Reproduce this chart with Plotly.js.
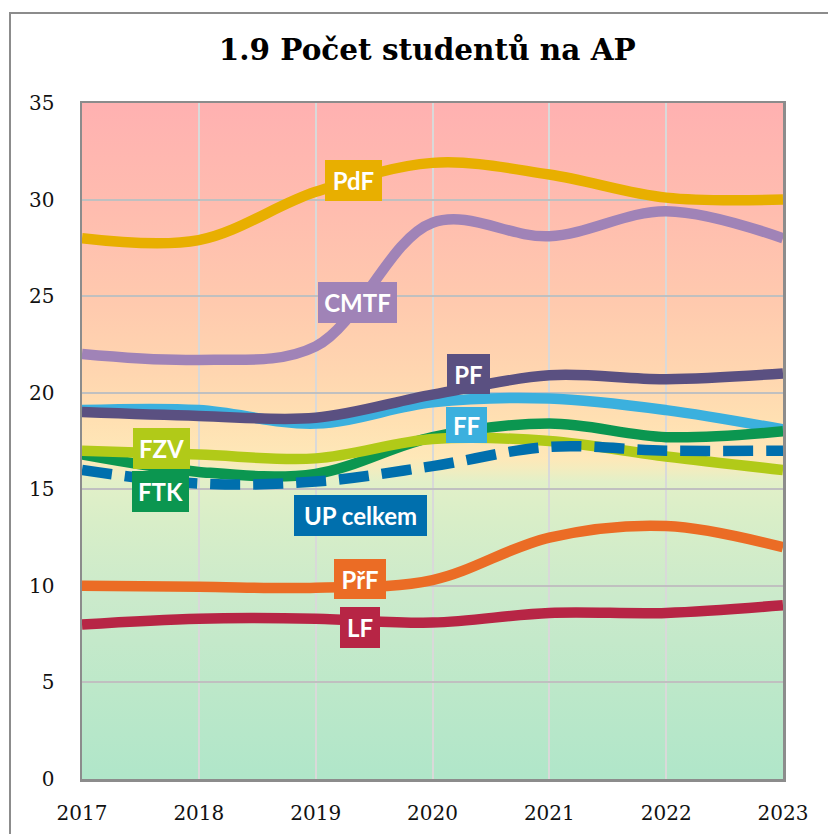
<!DOCTYPE html>
<html>
<head>
<meta charset="utf-8">
<script src="https://cdn.plot.ly/plotly-3.0.1.min.js"></script>
<style>
  html, body { margin: 0; padding: 0; background: #ffffff; }
  #wrap { position: relative; width: 828px; height: 834px; overflow: hidden; background: #fff; }
  #frame { position: absolute; left: 9px; top: 12px; width: 900px; height: 900px;
           border-left: 2px solid #8c8c8c; border-top: 2px solid #8c8c8c; box-sizing: border-box; }
  #bg { position: absolute; left: 82px; top: 103px; width: 701px; height: 676px;
        background: linear-gradient(to bottom,
          #ffb1b1 0%, #ffbcaf 15%, #ffc9ae 29%, #ffd6b0 40%, #ffe0b2 47%,
          #fee8b8 52.5%, #f4ecbe 54%, #e2f0c8 56%, #d8eec8 62%,
          #cbeacb 73%, #bde8c9 86%, #b0e6c9 100%); }
  #chart { position: absolute; left: 0; top: 0; width: 828px; height: 834px; }
</style>
</head>
<body>
<div id="wrap">
  <div id="frame"></div>
  <div id="bg"></div>
  <div id="chart"></div>
</div>
<script>
// ---- data ----
const years = [2017, 2018, 2019, 2020, 2021, 2022, 2023];
const seriesNames = ["CMTF", "FF", "FTK", "FZV", "LF", "PdF", "PF", "PřF", "UP celkem"];
const CMTF = [22.0, 21.7, 22.4, 28.8, 28.1, 29.4, 28.0];
const FF   = [19.1, 19.1, 18.4, 19.5, 19.7, 19.1, 18.1];
const FTK  = [16.8, 15.9, 15.8, 17.7, 18.4, 17.7, 18.0];
const FZV  = [17.0, 16.8, 16.6, 17.6, 17.5, 16.7, 16.0];
const LF   = [8.0, 8.3, 8.3, 8.1, 8.6, 8.6, 9.0];
const PdF  = [28.0, 27.9, 30.4, 31.9, 31.3, 30.1, 30.0];
const PF   = [19.0, 18.8, 18.7, 19.9, 20.9, 20.7, 21.0];
const PrF  = [10.0, 9.95, 9.9, 10.3, 12.5, 13.1, 12.0];
const UP   = [16.0, 15.3, 15.4, 16.2, 17.2, 17.0, 17.0];
const yTicks = [0, 5, 10, 15, 20, 25, 30, 35];
const titleText = "1.9 Počet studentů na AP";

// ---- styles ----
const values = [CMTF, FF, FTK, FZV, LF, PdF, PF, PrF, UP];
const colors = ["#a083b7", "#3bb0de", "#0b9650", "#b1ca18", "#b72545", "#e8af00", "#5a5081", "#eb6c25", "#006fad"];
const dashes = ["solid", "solid", "solid", "solid", "solid", "solid", "solid", "solid", "30px,13px"];

const traces = values.map((v, i) => ({
  x: years, y: v, name: seriesNames[i], type: "scatter", mode: "lines",
  line: { color: colors[i], width: 10.5, shape: "spline", smoothing: 1, dash: dashes[i] },
  hoverinfo: "skip", showlegend: false
}));

// label boxes: [series index, x (year), y (value), box width, box height]
const labelPos = [
  [5, 2019.32, 30.97, 57, 41],
  [0, 2019.36, 24.65, 79, 41],
  [6, 2020.31, 20.97, 43, 40],
  [1, 2020.29, 18.33, 41, 36],
  [3, 2017.68, 17.09, 57, 41],
  [2, 2017.67, 14.86, 57, 41],
  [8, 2019.38, 13.62, 133, 41],
  [7, 2019.38, 10.36, 52, 40],
  [4, 2019.38, 7.82, 40, 41]
];
const annotations = labelPos.map(p => ({
  x: p[1], y: p[2], xref: "x", yref: "y", text: "<b>" + seriesNames[p[0]] + "</b>",
  showarrow: false, xanchor: "center", yanchor: "middle",
  bgcolor: colors[p[0]], borderpad: 0, borderwidth: 0, width: p[3], height: p[4],
  font: { family: "Lato, 'Open Sans', sans-serif", size: 24, color: "#ffffff" }
}));

const layout = {
  width: 828, height: 834,
  margin: { l: 82, r: 45, t: 103, b: 55 },
  paper_bgcolor: "rgba(0,0,0,0)",
  plot_bgcolor: "rgba(0,0,0,0)",
  title: {
    text: "<b>" + titleText + "</b>",
    xref: "container", yref: "container", x: 0.516, y: 0.94,
    xanchor: "center", yanchor: "middle",
    font: { family: "'DejaVu Serif', 'Liberation Serif', serif", size: 29.5, color: "#000" }
  },
  xaxis: {
    range: [2017, 2023], tickvals: years, ticktext: years.map(String),
    showgrid: true, gridcolor: "#d9d9d9", gridwidth: 2,
    showline: true, linecolor: "#8c8c8c", linewidth: 2.5, mirror: true,
    zeroline: false, ticks: "", ticklabelstandoff: 14,
    tickfont: { family: "'DejaVu Serif', 'Liberation Serif', serif", size: 20, color: "#111" }
  },
  yaxis: {
    range: [0, 35], tickvals: yTicks, ticktext: yTicks.map(String),
    showgrid: true, gridcolor: "#c0c0c0", gridwidth: 2,
    showline: true, linecolor: "#8c8c8c", linewidth: 2.5, mirror: true,
    zeroline: false, ticks: "", ticklabelstandoff: 21,
    tickfont: { family: "'DejaVu Serif', 'Liberation Serif', serif", size: 20, color: "#111" }
  },
  annotations: annotations
};

Plotly.newPlot("chart", traces, layout, { displayModeBar: false, staticPlot: true });
</script>
</body>
</html>
